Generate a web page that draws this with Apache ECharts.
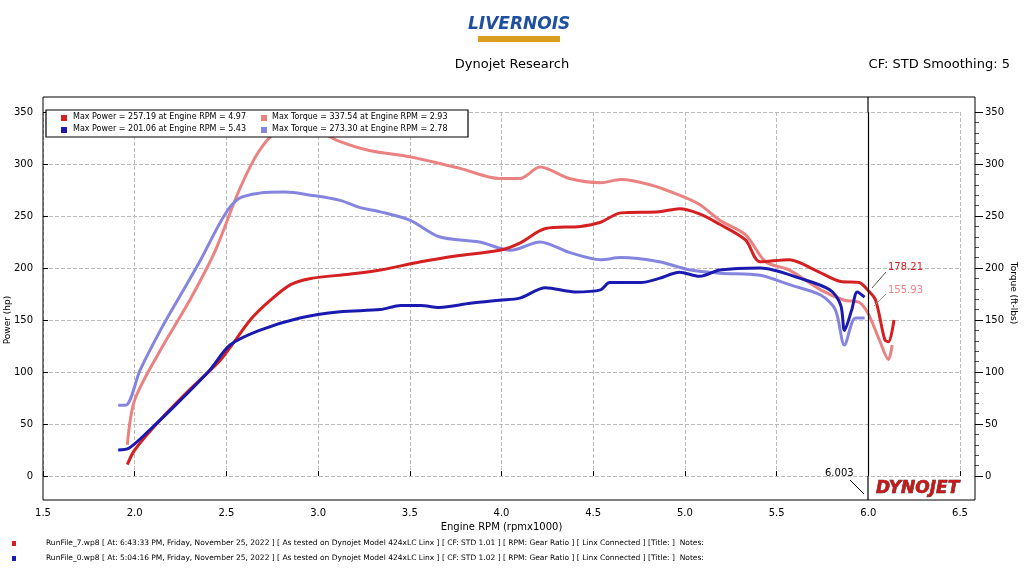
<!DOCTYPE html>
<html><head><meta charset="utf-8">
<script src="https://cdn.jsdelivr.net/npm/echarts@6/dist/echarts.min.js"></script>
<style>html,body{margin:0;background:#fff}#c{width:1024px;height:576px}</style>
</head><body><div id="c"></div>
<script>
const powerRedX=[1.96,2.0,2.14,2.3,2.47,2.63,2.74,2.85,2.96,3.17,3.34,3.56,3.77,3.99,4.1,4.24,4.43,4.54,4.65,4.86,4.97,5.08,5.19,5.33,5.41,5.57,5.71,5.85,5.95,6.0,6.04,6.09,6.11,6.14];
const powerRedY=[11,25,54,83,112,150,169,184,190,194,198,206,212,217,224,238,240,244,253,254,257,252,242,227,206,208,198,187,186,178.2,169,131,129,150];
const torqueRedX=[1.96,2.0,2.14,2.3,2.44,2.57,2.68,2.79,2.93,3.1,3.28,3.5,3.77,3.99,4.1,4.21,4.37,4.54,4.65,4.81,4.97,5.08,5.19,5.33,5.44,5.57,5.74,5.87,5.95,6.0,6.06,6.11,6.13];
const torqueRedY=[30,73,121,169,217,275,313,333,337.5,323,313,307,296,286,286,297,286,282,285,280,270,261,246,232,206,198,179,169,167,155.9,131,112,126];
const powerBlueX=[1.91,1.97,2.08,2.25,2.41,2.52,2.68,2.9,3.12,3.34,3.45,3.56,3.66,3.83,3.99,4.1,4.24,4.4,4.54,4.59,4.76,4.86,4.97,5.08,5.19,5.41,5.63,5.79,5.85,5.87,5.91,5.94,5.98];
const powerBlueY=[25,27,44,73,102,126,140,152,158,160,164,164,162,166,169,171,181,177,179,186,186,190,196,192,198,200,190,179,164,140,160,177,172];
const torqueBlueX=[1.91,1.95,2.03,2.14,2.25,2.36,2.49,2.57,2.68,2.82,2.96,3.12,3.23,3.34,3.5,3.66,3.88,4.05,4.21,4.37,4.54,4.65,4.86,5.03,5.19,5.41,5.57,5.74,5.82,5.87,5.93,5.98];
const torqueBlueY=[68,68,102,140,174,208,251,267,272,273,270,265,258,254,246,230,225,217,225,215,208,210,206,198,195,193,184,174,160,126,152,152];
const legendTexts=['Max Power = 257.19 at Engine RPM = 4.97','Max Torque = 337.54 at Engine RPM = 2.93','Max Power = 201.06 at Engine RPM = 5.43','Max Torque = 273.30 at Engine RPM = 2.78'];
const footer=['RunFile_7.wp8 [ At: 6:43:33 PM, Friday, November 25, 2022 ] [ As tested on Dynojet Model 424xLC Linx ] [ CF: STD 1.01 ] [ RPM: Gear Ratio ] [ Linx Connected ] [Title: ]  Notes:',
'RunFile_0.wp8 [ At: 5:04:16 PM, Friday, November 25, 2022 ] [ As tested on Dynojet Model 424xLC Linx ] [ CF: STD 1.02 ] [ RPM: Gear Ratio ] [ Linx Connected ] [Title: ]  Notes:'];
const colors=['#d42020','#ea8282','#1a1ab0','#8585e0'];
const zip=(a,b)=>a.map((v,i)=>[v,b[i]]);
const ch=echarts.init(document.getElementById('c'));
const F='Verdana, "DejaVu Sans", sans-serif';
const ser=(d,c,yi)=>({type:'line',data:d,yAxisIndex:yi,showSymbol:false,smooth:0.3,lineStyle:{color:c,width:3},itemStyle:{color:c},z:3});
ch.setOption({
 animation:false,
 grid:{left:43,right:64,top:112,bottom:100,containLabel:false,outerBoundsMode:'none'},
 xAxis:{type:'value',min:1.5,max:6.5,interval:0.5,
   name:'Engine RPM (rpmx1000)',nameLocation:'middle',nameGap:38,nameTextStyle:{fontFamily:F,fontSize:10,color:'#000'},
   axisLine:{show:false},axisTick:{show:true,length:-5,lineStyle:{color:'#000'}},
   axisLabel:{fontFamily:F,fontSize:10,color:'#000',margin:32,formatter:v=>v.toFixed(1)},
   splitLine:{show:true,lineStyle:{type:'dashed',color:'#bbb'}}},
 yAxis:[{type:'value',min:0,max:350,interval:50,position:'left',
   axisLine:{show:false},axisTick:{show:true,length:-5,lineStyle:{color:'#000'}},
   axisLabel:{fontFamily:F,fontSize:10,color:'#000',margin:10},
   splitLine:{show:true,lineStyle:{type:'dashed',color:'#bbb'}}},
  {type:'value',min:0,max:350,interval:50,position:'right',offset:15,
   axisLine:{show:false},axisTick:{show:true,length:8,lineStyle:{color:'#000'}},minorTick:{show:true,splitNumber:5,length:4},
   axisLabel:{fontFamily:F,fontSize:10,color:'#000',margin:10},splitLine:{show:false}}],
 series:[
  ser(zip(torqueRedX,torqueRedY),colors[1],1),
  ser(zip(torqueBlueX,torqueBlueY),colors[3],1),
  Object.assign(ser(zip(powerRedX,powerRedY),colors[0],0),{markLine:{silent:true,symbol:'none',label:{show:false},lineStyle:{color:'#000',type:'solid',width:1.2},data:[{xAxis:6.003}]}}),
  ser(zip(powerBlueX,powerBlueY),colors[2],0)
 ],
 graphic:[
  {type:'rect',shape:{x:43,y:97,width:932,height:403},style:{fill:'none',stroke:'#000',lineWidth:1},z:10},
  {type:'line',shape:{x1:868,y1:97,x2:868,y2:112},style:{stroke:'#000',lineWidth:1.2},z:10},
  {type:'line',shape:{x1:868,y1:476,x2:868,y2:500},style:{stroke:'#000',lineWidth:1.2},z:10},
  {type:'text',x:3,y:320,rotation:Math.PI/2,style:{text:'Power (hp)',font:'9px '+F,fill:'#000',align:'center',verticalAlign:'top'}},
  {type:'text',x:1018,y:293,rotation:-Math.PI/2,style:{text:'Torque (ft-lbs)',font:'9px '+F,fill:'#000',align:'center',verticalAlign:'top'}},
  {type:'text',left:'center',top:58,style:{text:'Dynojet Research',font:'13px '+F,fill:'#000'}},
  {type:'text',right:14,top:58,style:{text:'CF: STD Smoothing: 5',font:'13px '+F,fill:'#000'}},
  {type:'text',x:468,y:16,style:{text:'LIVERNOIS',font:'italic bold 17px '+F,fill:'#1f4fa0',stroke:'#fff',lineWidth:1},z:5},
  {type:'rect',shape:{x:478,y:36,width:82,height:6},style:{fill:'#d9a020'}},
  {type:'rect',shape:{x:46,y:110,width:422,height:27},style:{fill:'#fff',stroke:'#000',lineWidth:1.2},z:20},
  {type:'rect',shape:{x:61,y:115,width:6,height:6},style:{fill:colors[0]},z:21},
  {type:'text',x:73,y:113,style:{text:legendTexts[0],font:'8px '+F,fill:'#000'},z:21},
  {type:'rect',shape:{x:261,y:115,width:6,height:6},style:{fill:colors[1]},z:21},
  {type:'text',x:272,y:113,style:{text:legendTexts[1],font:'8px '+F,fill:'#000'},z:21},
  {type:'rect',shape:{x:61,y:127,width:6,height:6},style:{fill:colors[2]},z:21},
  {type:'text',x:73,y:125,style:{text:legendTexts[2],font:'8px '+F,fill:'#000'},z:21},
  {type:'rect',shape:{x:261,y:127,width:6,height:6},style:{fill:colors[3]},z:21},
  {type:'text',x:272,y:125,style:{text:legendTexts[3],font:'8px '+F,fill:'#000'},z:21},
  {type:'text',x:888,y:262,style:{text:'178.21',font:'10px '+F,fill:colors[0]},z:21},
  {type:'text',x:888,y:285,style:{text:'155.93',font:'10px '+F,fill:colors[1]},z:21},
  {type:'line',shape:{x1:886,y1:272,x2:872,y2:288},style:{stroke:'#555',lineWidth:1},z:21},
  {type:'line',shape:{x1:886,y1:294,x2:874,y2:306},style:{stroke:'#999',lineWidth:1},z:21},
  {type:'text',x:825,y:468,style:{text:'6.003',font:'10px '+F,fill:'#000'},z:21},
  {type:'line',shape:{x1:850,y1:480,x2:864,y2:494},style:{stroke:'#000',lineWidth:1},z:21},
  {type:'text',x:876,y:480,style:{text:'DYNOJET',font:'italic bold 17px '+F,fill:'#c81818',stroke:'#222',lineWidth:0.6},z:21},
  {type:'rect',shape:{x:12,y:541,width:4,height:5},style:{fill:colors[0]}},
  {type:'rect',shape:{x:12,y:556,width:4,height:5},style:{fill:colors[2]}},
  {type:'text',x:46,y:539,style:{text:footer[0],font:'7.5px '+F,fill:'#000'}},
  {type:'text',x:46,y:554,style:{text:footer[1],font:'7.5px '+F,fill:'#000'}}
 ]
});
</script></body></html>
